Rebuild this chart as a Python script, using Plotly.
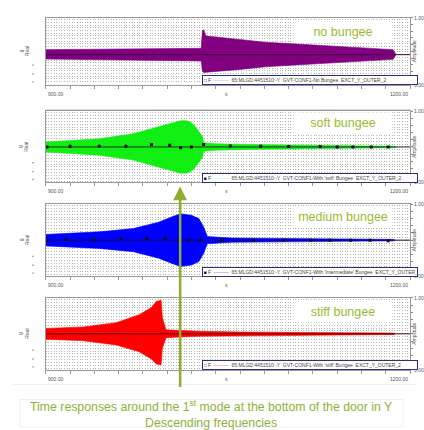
import plotly.graph_objects as go

W, H = 424, 430

# ---------------- data ----------------
# Panel 1: no bungee (envelope of time response)
nb_t  = [900, 940, 980, 1010, 1028, 1029, 1030, 1032, 1040, 1060, 1081, 1110, 1135, 1160, 1186, 1188]
nb_up = [0.15, 0.16, 0.17, 0.18, 0.19, 0.72, 0.74, 0.56, 0.53, 0.45, 0.37, 0.31, 0.26, 0.21, 0.15, 0.03]
nb_lo = [0.13, 0.15, 0.17, 0.18, 0.19, 0.50, 0.53, 0.53, 0.50, 0.44, 0.36, 0.31, 0.25, 0.20, 0.14, 0.03]

# Panel 2: soft bungee
sb_t  = [900, 944, 972, 993, 1007, 1011, 1016, 1019, 1022, 1026, 1029, 1030, 1040, 1067, 1100, 1150, 1188]
sb_up = [0.14, 0.23, 0.37, 0.56, 0.70, 0.74, 0.74, 0.70, 0.62, 0.45, 0.30, 0.12, 0.09, 0.07, 0.05, 0.035, 0.02]
sb_lo = [0.14, 0.23, 0.37, 0.56, 0.70, 0.74, 0.74, 0.70, 0.62, 0.45, 0.30, 0.12, 0.09, 0.07, 0.05, 0.035, 0.02]

# Panel 3: medium bungee
md_t  = [900, 944, 972, 993, 1004, 1011, 1020, 1026, 1030, 1033, 1053, 1108, 1187]
md_up = [0.16, 0.23, 0.32, 0.50, 0.65, 0.73, 0.69, 0.60, 0.37, 0.10, 0.06, 0.04, 0.02]
md_lo = [0.16, 0.23, 0.32, 0.50, 0.65, 0.73, 0.69, 0.60, 0.37, 0.10, 0.06, 0.04, 0.02]

# Panel 4: stiff bungee
st_t  = [900, 931, 958, 977, 987, 991, 995, 996, 999, 1010, 1026, 1060, 1108, 1187]
st_up = [0.15, 0.19, 0.31, 0.53, 0.73, 0.90, 0.93, 0.45, 0.11, 0.09, 0.07, 0.05, 0.04, 0.02]
st_lo = [0.15, 0.19, 0.31, 0.50, 0.70, 0.84, 0.86, 0.40, 0.11, 0.09, 0.07, 0.05, 0.04, 0.02]

# marker points on the reference trace (panels 2 and 3)
sb_mk_t = [901, 920, 944, 966, 987, 1002, 1011, 1020, 1030, 1052, 1077, 1100, 1126, 1140, 1153, 1168, 1182]
sb_mk_v = [0.0, 0.02, 0.02, 0.02, 0.07, 0.05, -0.02, 0.0, 0.07, 0.03, 0.02, 0.01, 0.01, 0.0, 0.0, 0.0, 0.0]
md_mk_t = [901, 917, 940, 962, 983, 998, 1010, 1018, 1027, 1045, 1071, 1096, 1118, 1134, 1151, 1167, 1182]
md_mk_v = [0.0, 0.01, 0.01, 0.04, 0.05, 0.04, 0.0, 0.0, 0.0, 0.0, 0.0, 0.0, 0.0, 0.0, 0.0, 0.0, -0.02]

x_range = [900, 1200]
x_tick_labels = ["900.00", "s", "1200.00"]
amp_labels = ["0.00", "1.00"]

labels = ["no bungee", "soft bungee", "medium bungee", "stiff bungee"]
legend_texts = [
    "65:MLGD:4451510:-Y  GVT-CONF1-No Bungee  EXCT_Y_OUTER_2",
    "65:MLGD:4451510:-Y  GVT-CONF1-With 'soft' Bungee  EXCT_Y_OUTER_2",
    "65:MLGD:4451510:-Y  GVT-CONF1-With 'intermediate' Bungee  EXCT_Y_OUTER_2",
    "65:MLGD:4451510:-Y  GVT-CONF1-With 'stiff' Bungee  EXCT_Y_OUTER_2",
]
caption = "Time responses around the 1<sup>st</sup> mode at the bottom of the door in Y<br>Descending frequencies"

# ---------------- styling / layout ----------------
def px(x):
    return x / W

def py(y):
    return 1 - y / H

panels = [
    dict(t=nb_t, up=nb_up, lo=nb_lo, top=15, bot=83, yr=[-0.9, 1.1], fill="#800080",
         cline="#3a003a", legbox="□", legline="#dd88dd", lab_y=29, mk=None),
    dict(t=sb_t, up=sb_up, lo=sb_lo, top=110, bot=182, yr=[-1, 1], fill="#11ee11",
         cline="#203020", legbox="■", legline="#99ff99", lab_y=122, mk=(sb_mk_t, sb_mk_v)),
    dict(t=md_t, up=md_up, lo=md_lo, top=204, bot=277, yr=[-1, 1], fill="#0000ff",
         cline="#101040", legbox="■", legline="#5555ff", lab_y=217, mk=(md_mk_t, md_mk_v)),
    dict(t=st_t, up=st_up, lo=st_lo, top=299, bot=372, yr=[-1, 1], fill="#ff0000",
         cline="#500000", legbox="□", legline="#ff4444", lab_y=313, mk=None),
]

FONT = "Liberation Sans, Arial, sans-serif"
fig = go.Figure()
annotations = []
shapes = []
X0, X1 = 46, 412

for i, p in enumerate(panels):
    n = i + 1
    xa = "x" if n == 1 else f"x{n}"
    ya = "y" if n == 1 else f"y{n}"
    ra = f"y{n + 4}"
    xs = p["t"] + p["t"][::-1]
    ys = p["up"] + [-v for v in p["lo"][::-1]]
    fig.add_trace(go.Scatter(x=xs, y=ys, fill="toself", fillcolor=p["fill"],
                             line=dict(color=p["fill"], width=0.6), mode="lines",
                             xaxis=xa, yaxis=ya, showlegend=False, hoverinfo="skip"))
    fig.add_trace(go.Scatter(x=[x_range[0], p["t"][-1], x_range[1]], y=[0, 0, 0], mode="lines",
                             line=dict(color=p["cline"], width=1),
                             xaxis=xa, yaxis=ya, showlegend=False, hoverinfo="skip"))
    if p["mk"] is not None:
        fig.add_trace(go.Scatter(x=p["mk"][0], y=p["mk"][1], mode="markers",
                                 marker=dict(symbol="square", size=3, color="#111111"),
                                 xaxis=xa, yaxis=ya, showlegend=False, hoverinfo="skip"))
    fig.add_trace(go.Scatter(x=[None], y=[None], xaxis=xa, yaxis=ra, showlegend=False))

    dom_y = [py(p["bot"]), py(p["top"])]
    fig.layout[("xaxis" if n == 1 else f"xaxis{n}")] = dict(
        domain=[px(X0), px(X1)], anchor=ya, range=x_range, showgrid=False, zeroline=False,
        showline=True, mirror=True, linecolor="#999999", linewidth=1,
        ticks="outside", ticklen=3, tickcolor="#999999", dtick=20, tick0=900,
        showticklabels=False)
    fig.layout[("yaxis" if n == 1 else f"yaxis{n}")] = dict(
        domain=dom_y, anchor=xa, range=p["yr"], showgrid=True, gridcolor="#b4b4b4",
        griddash="1px,1.6px", gridwidth=1, dtick=0.08, tick0=0, zeroline=False,
        showline=True, mirror=True, linecolor="#999999", showticklabels=False, ticks="")
    fig.layout[f"yaxis{n + 4}"] = dict(
        domain=dom_y, anchor=xa, overlaying=ya, side="right", range=[0, 1],
        tickvals=[k / 10 for k in range(11)],
        ticktext=[amp_labels[0]] + [""] * 9 + [amp_labels[1]],
        ticks="outside", ticklen=2, tickcolor="#888888",
        tickfont=dict(size=5, color="#555555", family=FONT),
        showgrid=False, zeroline=False, showline=False)

    mid = (p["top"] + p["bot"]) / 2
    # x tick labels
    annotations.append(dict(x=px(X0), y=py(p["bot"] + 9), text=x_tick_labels[0], showarrow=False,
                            xanchor="left", yanchor="middle", font=dict(size=5, color="#555555")))
    annotations.append(dict(x=px(228), y=py(p["bot"] + 9), text=x_tick_labels[1], showarrow=False,
                            xanchor="center", yanchor="middle", font=dict(size=5, color="#555555")))
    annotations.append(dict(x=px(X1), y=py(p["bot"] + 9), text=x_tick_labels[2], showarrow=False,
                            xanchor="right", yanchor="middle", font=dict(size=5, color="#555555")))
    # left axis title
    annotations.append(dict(x=px(24), y=py(mid), text="g<br>Real", showarrow=False, textangle=-90,
                            xanchor="center", yanchor="middle", font=dict(size=5, color="#555555")))
    # right axis title
    annotations.append(dict(x=px(416), y=py(mid), text="Amplitude", showarrow=False, textangle=-90,
                            xanchor="center", yanchor="middle", font=dict(size=5, color="#555555")))
    # tiny left tick dots
    for off, c in zip([-20, -11, -3], ["#c08a50", "#999999", "#999999"]):
        yy = p["bot"] + off
        shapes.append(dict(type="rect", xref="paper", yref="paper", x0=px(32.5), x1=px(34),
                           y0=py(yy + 0.7), y1=py(yy - 0.7), fillcolor=c, line=dict(width=0)))
    # label
    annotations.append(dict(x=px(345), y=py(p["lab_y"]), text=labels[i], showarrow=False,
                            xanchor="center", yanchor="middle", bgcolor="white", width=96, height=18,
                            font=dict(size=12.5, color="#99bb33", family=FONT)))
    # legend box
    leg = (f"<span style='color:#111'>{p['legbox']}</span> F &nbsp;"
           f"<span style='color:{p['legline']}'>———</span>&nbsp;&nbsp;{legend_texts[i]}")
    annotations.append(dict(x=px(203), y=py(p["bot"] - 4.5), text=leg, showarrow=False,
                            xanchor="left", yanchor="middle", align="left", width=213, height=7,
                            bgcolor="white", bordercolor="#2e2e80", borderwidth=1, borderpad=0.5,
                            font=dict(size=5, color="#444444", family=FONT)))

# separators and caption box
shapes.append(dict(type="line", xref="paper", yref="paper", x0=px(46), x1=px(412), y0=py(108), y1=py(108),
                   line=dict(color="#d8d8d8", width=1)))
shapes.append(dict(type="line", xref="paper", yref="paper", x0=px(13), x1=px(418), y0=py(387), y1=py(387),
                   line=dict(color="#eeeeee", width=1)))
shapes.append(dict(type="rect", xref="paper", yref="paper", x0=px(20), x1=px(405), y0=py(430), y1=py(402),
                   line=dict(color="#f0f0f0", width=1)))

# green arrow
annotations.append(dict(x=px(181), y=py(186), xref="paper", yref="paper", text="", showarrow=True,
                        ax=0, ay=202, arrowhead=2, arrowsize=1.1, arrowwidth=2.5, arrowcolor="#8fae2c",
                        standoff=0))
# caption
annotations.append(dict(x=px(212), y=py(417), text=caption, showarrow=False, xanchor="center",
                        yanchor="middle", font=dict(size=12.3, color="#8db33a", family=FONT)))

for a in annotations:
    a.setdefault("xref", "paper")
    a.setdefault("yref", "paper")

fig.update_layout(width=W, height=H, margin=dict(l=0, r=0, t=0, b=0),
                  paper_bgcolor="white", plot_bgcolor="white", showlegend=False,
                  font=dict(family=FONT), annotations=annotations, shapes=shapes)

fig.write_html("out.html")
